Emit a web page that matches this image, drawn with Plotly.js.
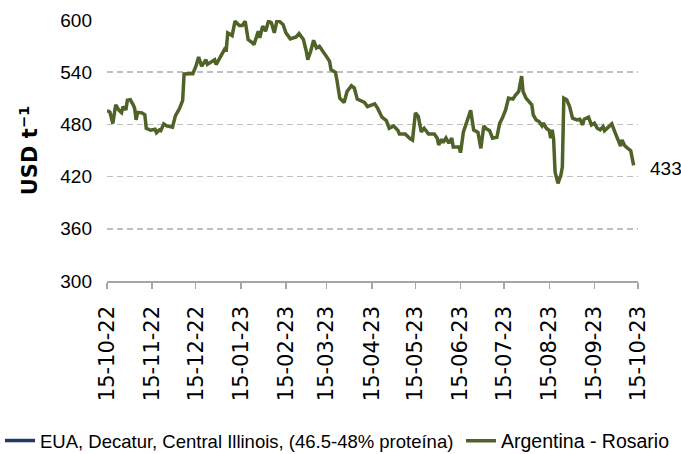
<!DOCTYPE html>
<html>
<head>
<meta charset="utf-8">
<script src="https://cdn.plot.ly/plotly-3.0.1.min.js"></script>
<style>html,body{margin:0;padding:0;background:#fff;}#chart{width:681px;height:454px;}</style>
</head>
<body>
<div id="chart"></div>
<script>
const seriesNames = ["EUA, Decatur, Central Illinois, (46.5-48% proteína)", "Argentina - Rosario"];
const euaDates = ["2022-10-15"];
const euaValues = [null];
const argDates = [
"2022-10-15","2022-10-17","2022-10-19","2022-10-21","2022-10-23","2022-10-25","2022-10-26","2022-10-28","2022-10-29","2022-10-31",
"2022-11-02","2022-11-03","2022-11-04","2022-11-05","2022-11-08","2022-11-10","2022-11-11","2022-11-14","2022-11-17","2022-11-18",
"2022-11-20","2022-11-21","2022-11-23","2022-11-25","2022-11-27","2022-11-29","2022-12-01","2022-12-04","2022-12-06","2022-12-07",
"2022-12-11","2022-12-13","2022-12-15","2022-12-17","2022-12-19","2022-12-22","2022-12-23","2022-12-28","2022-12-29","2023-01-01",
"2023-01-04","2023-01-05","2023-01-06","2023-01-09","2023-01-11","2023-01-14","2023-01-16","2023-01-18","2023-01-20","2023-01-23",
"2023-01-24","2023-01-27","2023-01-28","2023-01-30","2023-02-01","2023-02-03","2023-02-05","2023-02-07","2023-02-09","2023-02-13",
"2023-02-15","2023-02-18","2023-02-21","2023-02-22","2023-02-24","2023-02-27","2023-03-01","2023-03-02","2023-03-04","2023-03-06",
"2023-03-08","2023-03-10","2023-03-14","2023-03-17","2023-03-18","2023-03-21","2023-03-22","2023-03-24","2023-03-27","2023-03-29",
"2023-04-01","2023-04-03","2023-04-05","2023-04-08","2023-04-10","2023-04-12","2023-04-15","2023-04-17","2023-04-19","2023-04-22",
"2023-04-25","2023-04-27","2023-04-30","2023-05-03","2023-05-04","2023-05-08","2023-05-11","2023-05-13","2023-05-15","2023-05-17",
"2023-05-19","2023-05-21","2023-05-24","2023-05-28","2023-05-30","2023-05-31","2023-06-02","2023-06-03","2023-06-05","2023-06-07",
"2023-06-09","2023-06-10","2023-06-14","2023-06-15","2023-06-17","2023-06-19","2023-06-22","2023-06-24","2023-06-27","2023-06-29",
"2023-07-01","2023-07-03","2023-07-05","2023-07-07","2023-07-10","2023-07-11","2023-07-12","2023-07-14","2023-07-16","2023-07-18",
"2023-07-21","2023-07-23","2023-07-25","2023-07-27","2023-07-28","2023-07-30","2023-08-02","2023-08-03","2023-08-04","2023-08-06",
"2023-08-08","2023-08-10","2023-08-11","2023-08-13","2023-08-15","2023-08-16","2023-08-17","2023-08-18","2023-08-19","2023-08-21",
"2023-08-23","2023-08-24","2023-08-25","2023-08-27","2023-08-29","2023-08-31","2023-09-03","2023-09-05","2023-09-07","2023-09-08",
"2023-09-11","2023-09-13","2023-09-15","2023-09-17","2023-09-19","2023-09-21","2023-09-22","2023-09-24","2023-09-27","2023-09-29",
"2023-10-01","2023-10-03","2023-10-04","2023-10-06","2023-10-08","2023-10-10","2023-10-12"
];
const argValues = [
496,494,481,502.5,496.7,493.6,500.5,496.7,507.7,508.3,
502.5,498.5,485.2,493.9,493.3,491,475.6,473.3,474.5,470.5,
473.7,472.9,480.6,478.3,477.5,476.8,489.8,498.7,507.5,538,
538.3,538.3,546.3,557.5,546.9,554.4,549,554.4,548.7,558.2,
566.8,566,585.2,582.1,598.6,593.7,593.7,598.6,577.5,573.7,
571.7,587.1,579.5,592.8,587.1,598.6,596.8,585.2,600.6,594.8,
585.2,578.3,579.5,580.6,584.4,577.5,564,554.4,564,576.7,
567.9,569.8,560.2,552.5,542.9,539.8,531.3,510.2,505.2,517.8,
524.4,521.8,509.1,506.3,505.2,500.5,502.2,503.7,498.7,488.3,
484.4,475.6,478.3,472.9,469,469,464.1,462.1,493.3,489,
471.4,475.6,469,469,464.1,456.4,462.9,459,464.4,458.3,
464.4,454,454,447.5,471.4,481.4,496.2,473.7,470.8,452.5,
478.3,474.5,472.9,464.1,465.2,473.7,481.4,488.3,496.7,510.2,
509.1,514,517.8,535.4,517.8,510.2,504.5,502.5,491,485.2,
483.2,478.3,481.4,475.6,472.9,464.1,473.7,462.9,425.2,412.2,
421.7,431,510.2,508.3,500.5,487.2,485.2,486,479.4,486,
488.3,479.4,481.4,475.6,473.7,477.5,472.9,475.6,480.6,471.7,
462.1,455.2,462.1,455.2,452.5,449.8,433
];
const tickDates = ["2022-10-15","2022-11-15","2022-12-15","2023-01-15","2023-02-15","2023-03-15","2023-04-15","2023-05-15","2023-06-15","2023-07-15","2023-08-15","2023-09-15","2023-10-15"];
const tickLabels = ["15-10-22","15-11-22","15-12-22","15-01-23","15-02-23","15-03-23","15-04-23","15-05-23","15-06-23","15-07-23","15-08-23","15-09-23","15-10-23"];
const yTicks = [300,360,420,480,540,600];

const sans = "'Liberation Sans', Arial, sans-serif";

const traces = [
  {x: euaDates, y: euaValues, type: 'scatter', mode: 'lines', name: seriesNames[0],
   line: {color: '#1F3864', width: 3.5}, legend: 'legend'},
  {x: argDates, y: argValues, type: 'scatter', mode: 'lines', name: seriesNames[1],
   line: {color: '#4F6228', width: 3.5}, legend: 'legend2'}
];

const layout = {
  width: 681, height: 454,
  margin: {l: 107, r: 43, t: 20, b: 173, autoexpand: false},
  paper_bgcolor: '#fff', plot_bgcolor: '#fff',
  showlegend: true,
  xaxis: {
    type: 'date', range: [tickDates[0], tickDates[tickDates.length-1]],
    tickmode: 'array', tickvals: tickDates, ticktext: tickLabels,
    tickangle: -90, ticks: 'outside', ticklen: 6, tickcolor: '#A6A6A6', tickwidth: 1.5,
    showline: true, linecolor: '#A6A6A6', linewidth: 1.5,
    showgrid: false, zeroline: false, automargin: false,
    ticklabelstandoff: 9,
    tickfont: {family: 'DejaVu Sans', size: 21, color: '#000'}
  },
  yaxis: {
    range: [300, 600], tickmode: 'array', tickvals: yTicks,
    showgrid: true, gridcolor: '#BFBFBF', gridwidth: 1.5, griddash: '6px,4px',
    zeroline: false, showline: false, ticks: '', automargin: false,
    ticklabelstandoff: 14,
    tickfont: {family: sans, size: 19, color: '#000'},
    title: {text: '<b>USD t<sup>−1</sup></b>', font: {family: 'DejaVu Sans', size: 21, color: '#000'}, standoff: 16}
  },
  legend: {
    orientation: 'h', xref: 'container', yref: 'container', x: 0, xanchor: 'left', y: 1 - 441/454, yanchor: 'middle',
    font: {family: sans, size: 18.5, color: '#000'}, bgcolor: 'rgba(0,0,0,0)'
  },
  legend2: {
    orientation: 'h', xref: 'container', yref: 'container', x: 461/681, xanchor: 'left', y: 1 - 441/454, yanchor: 'middle',
    font: {family: sans, size: 19.5, color: '#000'}, bgcolor: 'rgba(0,0,0,0)'
  },
  annotations: [{
    x: 1.0527, xref: 'paper', y: argValues[argValues.length-1], yref: 'y',
    text: String(argValues[argValues.length-1]), showarrow: false, xanchor: 'center', yanchor: 'middle', yshift: -3,
    font: {family: sans, size: 19, color: '#000'}
  }]
};

Plotly.newPlot('chart', traces, layout, {staticPlot: true, displayModeBar: false});
</script>
</body>
</html>
